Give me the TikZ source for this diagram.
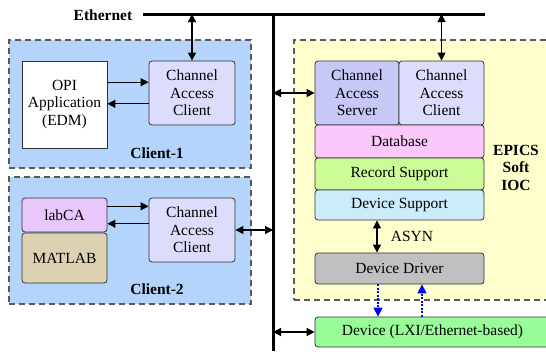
\documentclass[tikz,border=0pt]{standalone}
\usepackage{fontspec}
\setmainfont{Liberation Serif}
\usetikzlibrary{arrows.meta,calc}
\definecolor{clientbg}{RGB}{180,212,252}
\definecolor{iocbg}{RGB}{255,255,206}
\definecolor{caclient}{RGB}{220,220,252}
\definecolor{caserver}{RGB}{200,200,248}
\definecolor{dbcol}{RGB}{252,200,252}
\definecolor{rscol}{RGB}{204,252,152}
\definecolor{dscol}{RGB}{204,236,252}
\definecolor{ddcol}{RGB}{192,192,192}
\definecolor{devcol}{RGB}{152,252,152}
\definecolor{labcacol}{RGB}{232,200,252}
\definecolor{matlabcol}{RGB}{220,210,178}
\begin{document}
\begin{tikzpicture}[x=1pt,y=-1pt,
    font=\fontsize{15.5}{17.5}\selectfont,
    group/.style={draw=black!65,dashed,dash pattern=on 6pt off 4pt,line width=1.2pt,inner sep=0pt},
    box/.style={draw=black!80,line width=0.8pt,rounded corners=3pt,align=center,inner sep=0pt},
    link/.style={line width=1.2pt,{Triangle[length=8pt,width=8pt]}-{Triangle[length=8pt,width=8pt]}},
    onelink/.style={line width=1.2pt,-{Triangle[length=8pt,width=8pt]}},
    blink/.style={blue,dash pattern=on 2pt off 1.5pt,line width=1.4pt,-{Triangle[length=9pt,width=9pt]}},
    bus/.style={line width=3pt}]
  \useasboundingbox (0,0) rectangle (546,351);
  % 客户端与IOC背景框
  \node[group,fill=clientbg,minimum width=242pt,minimum height=128pt] (client1) at (130,104) {};
  \node[group,fill=clientbg,minimum width=242pt,minimum height=127pt] (client2) at (130,240.5) {};
  \node[group,fill=iocbg,minimum width=256pt,minimum height=260pt] (ioc) at (422,170) {};
  % 以太网总线
  \coordinate (eth-l) at (143,14);
  \coordinate (eth-r) at (485,14);
  \coordinate (bus-t) at (273,14);
  \coordinate (bus-b) at (273,351);
  \draw[bus] (eth-l) -- (eth-r);
  \draw[bus] (bus-t) -- (bus-b);
  \node[font=\fontsize{15.5}{17.5}\selectfont\bfseries] (eth) at (103,15) {Ethernet};
  % Client-1
  \node[draw=black!80,line width=0.8pt,fill=white,align=center,inner sep=0pt,minimum width=85pt,minimum height=87pt] (opi) at (64.5,104.5) {OPI\\Application\\(EDM)};
  \node[box,fill=caclient,minimum width=86pt,minimum height=64pt] (cac1) at (192,93) {Channel\\Access\\Client};
  \node[font=\fontsize{15.5}{17.5}\selectfont\bfseries] (c1name) at (157,153) {Client-1};
  % Client-2
  \node[box,fill=labcacol,minimum width=85pt,minimum height=34pt] (labca) at (64.5,215) {labCA};
  \node[box,fill=matlabcol,minimum width=85pt,minimum height=50pt] (matlab) at (64.5,258) {MATLAB};
  \node[box,fill=caclient,minimum width=86pt,minimum height=64pt] (cac2) at (192,230) {Channel\\Access\\Client};
  \node[font=\fontsize{15.5}{17.5}\selectfont\bfseries] (c2name) at (157,289) {Client-2};
  % EPICS Soft IOC
  \node[box,fill=caserver,minimum width=84pt,minimum height=64pt] (cas) at (357,93) {Channel\\Access\\Server};
  \node[box,fill=caclient,minimum width=85pt,minimum height=64pt] (caci) at (441.5,93) {Channel\\Access\\Client};
  \node[box,fill=dbcol,minimum width=169pt,minimum height=33pt] (db) at (399.5,141.5) {Database};
  \node[box,fill=rscol,minimum width=169pt,minimum height=32pt] (rs) at (399.5,174) {Record Support};
  \node[box,fill=dscol,minimum width=169pt,minimum height=30pt] (ds) at (399.5,205) {Device Support};
  \node[box,fill=ddcol,minimum width=169pt,minimum height=31pt] (dd) at (399.5,268.5) {Device Driver};
  \node[font=\fontsize{15.5}{17.5}\selectfont\bfseries,align=center] (iocname) at (516,167.5) {EPICS\\Soft\\IOC};
  \node[box,fill=devcol,minimum width=235pt,minimum height=30pt] (dev) at (432.5,332) {Device (LXI/Ethernet-based)};
  % 连线
  \draw[link] (cac1.north |- eth-l) -- (cac1.north);
  \draw[link] (caci.north |- eth-l) -- (caci.north);
  \coordinate (c1a) at ($(cac1.north west)!1/3!(cac1.south west)$);
  \coordinate (c1b) at ($(cac1.north west)!2/3!(cac1.south west)$);
  \draw[onelink] (c1a -| opi.east) -- (c1a);
  \draw[onelink] (c1b) -- (c1b -| opi.east);
  \coordinate (l2a) at ($(labca.north east)!0.25!(labca.south east)$);
  \coordinate (l2b) at ($(labca.north east)!0.75!(labca.south east)$);
  \draw[onelink] (l2a) -- (l2a -| cac2.west);
  \draw[onelink] (l2b -| cac2.west) -- (l2b);
  \draw[link] (cac2.east) -- (cac2.east -| bus-t);
  \draw[link] (bus-t |- cas.west) -- (cas.west);
  \draw[link] (bus-t |- dev.west) -- (dev.west);
  \draw[link] ([xshift=-22.5pt]ds.south) -- ([xshift=-22.5pt]dd.north) node[midway,right=10pt] (asyn) {ASYN};
  \draw[blink] ([xshift=-21.5pt]dd.south) -- ([xshift=-21.5pt]dev.north -| dd.south);
  \draw[blink] ([xshift=22.5pt]dev.north -| dd.south) -- ([xshift=22.5pt]dd.south);
\end{tikzpicture}
\end{document}
